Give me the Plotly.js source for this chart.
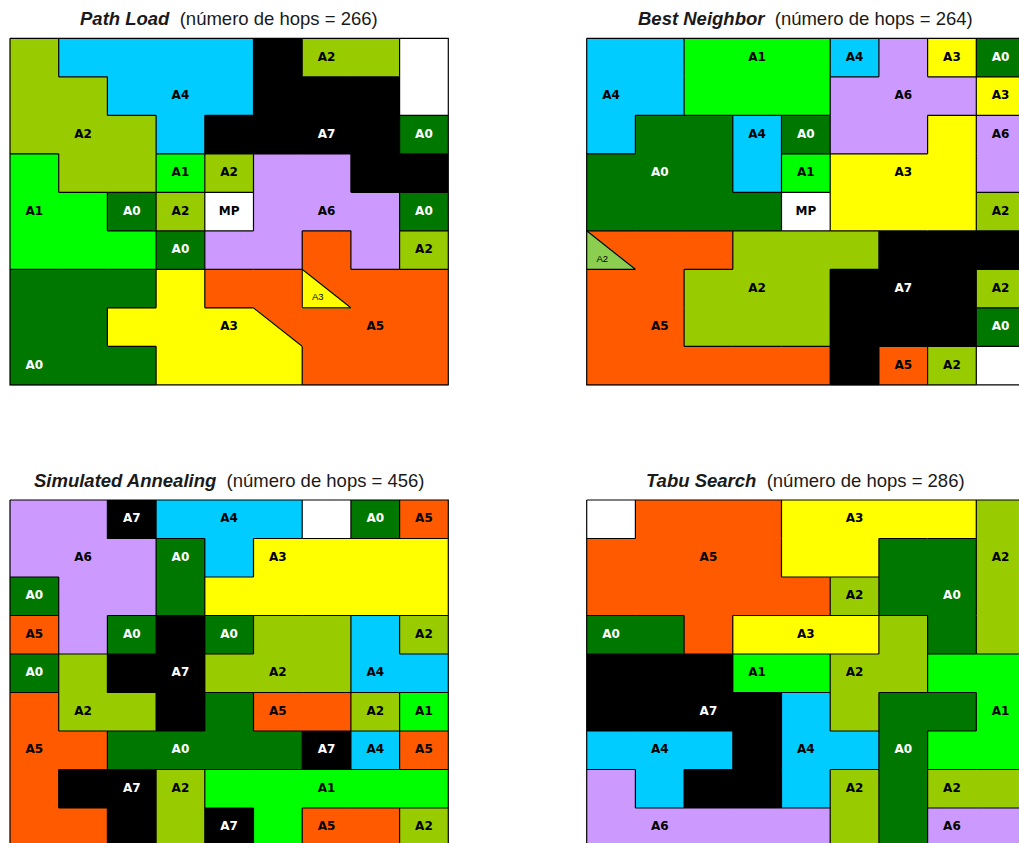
<!DOCTYPE html>
<html><head><meta charset="utf-8">
<script src="https://cdn.plot.ly/plotly-3.0.1.min.js"></script>
<style>html,body{margin:0;padding:0;background:#fff;overflow:hidden}#chart{width:1019px;height:843px}</style>
</head><body><div id="chart"></div>
<script>
// ---------- data ----------
const regionCodes  = ['A0','A1','A2','A3','A4','A5','A6','A7','MP','--','A2t'];
const regionColors = ['#007800','#00FF00','#99CC00','#FFFF00','#00CCFF','#FF5A00','#CC99FF','#000000','#FFFFFF','#FFFFFF','#8CCF50'];
const darkRegions  = ['A0','A7'];

const panelTitles = ['Path Load','Best Neighbor','Simulated Annealing','Tabu Search'];
const hopCounts   = [266, 264, 456, 286];

// grids: row 0 = top; '--' = empty cell; split cells hold their upper-right region
const pathLoadGrid = [
  ['A2','A4','A4','A4','A4','A7','A2','A2','--'],
  ['A2','A2','A4','A4','A4','A7','A7','A7','--'],
  ['A2','A2','A2','A4','A7','A7','A7','A7','A0'],
  ['A1','A2','A2','A1','A2','A6','A6','A7','A7'],
  ['A1','A1','A0','A2','MP','A6','A6','A6','A0'],
  ['A1','A1','A1','A0','A6','A6','A5','A6','A2'],
  ['A0','A0','A0','A3','A5','A5','A5','A5','A5'],
  ['A0','A0','A3','A3','A3','A5','A5','A5','A5'],
  ['A0','A0','A0','A3','A3','A3','A5','A5','A5']
];
const pathLoadSplits = [[6,6,'A3'],[7,5,'A3']];       // [row, col, lower-left region]
const pathLoadLabels = [
  [0,6,'A2'],[1,3,'A4'],[2,1,'A2'],[2,6,'A7'],[2,8,'A0'],[3,3,'A1'],[3,4,'A2'],
  [4,0,'A1'],[4,2,'A0'],[4,3,'A2'],[4,4,'MP'],[4,6,'A6'],[4,8,'A0'],[5,3,'A0'],
  [5,8,'A2'],[7,4,'A3'],[7,7,'A5'],[8,0,'A0']
];
const pathLoadSplitLabels = [[6,6,'A3']];

const bestNeighborGrid = [
  ['A4','A4','A1','A1','A1','A4','A6','A3','A0'],
  ['A4','A4','A1','A1','A1','A6','A6','A6','A3'],
  ['A4','A0','A0','A4','A0','A6','A6','A3','A6'],
  ['A0','A0','A0','A4','A1','A3','A3','A3','A6'],
  ['A0','A0','A0','A0','MP','A3','A3','A3','A2'],
  ['A5','A5','A5','A2','A2','A2','A7','A7','A7'],
  ['A5','A5','A2','A2','A2','A7','A7','A7','A2'],
  ['A5','A5','A2','A2','A2','A7','A7','A7','A0'],
  ['A5','A5','A5','A5','A5','A7','A5','A2','--']
];
const bestNeighborSplits = [[5,0,'A2t']];
const bestNeighborLabels = [
  [0,3,'A1'],[0,5,'A4'],[0,7,'A3'],[0,8,'A0'],[1,0,'A4'],[1,6,'A6'],[1,8,'A3'],
  [2,3,'A4'],[2,4,'A0'],[2,8,'A6'],[3,1,'A0'],[3,4,'A1'],[3,6,'A3'],[4,4,'MP'],
  [4,8,'A2'],[6,3,'A2'],[6,6,'A7'],[6,8,'A2'],[7,1,'A5'],[7,8,'A0'],[8,6,'A5'],[8,7,'A2']
];
const bestNeighborSplitLabels = [[5,0,'A2']];

const annealingGrid = [
  ['A6','A6','A7','A4','A4','A4','--','A0','A5'],
  ['A6','A6','A6','A0','A4','A3','A3','A3','A3'],
  ['A0','A6','A6','A0','A3','A3','A3','A3','A3'],
  ['A5','A6','A0','A7','A0','A2','A2','A4','A2'],
  ['A0','A2','A7','A7','A2','A2','A2','A4','A4'],
  ['A5','A2','A2','A7','A0','A5','A5','A2','A1'],
  ['A5','A5','A0','A0','A0','A0','A7','A4','A5'],
  ['A5','A7','A7','A2','A1','A1','A1','A1','A1'],
  ['A5','A5','A7','A2','A7','A1','A5','A5','A2']
];
const annealingSplits = [];
const annealingLabels = [
  [0,2,'A7'],[0,4,'A4'],[0,7,'A0'],[0,8,'A5'],[1,1,'A6'],[1,3,'A0'],[1,5,'A3'],
  [2,0,'A0'],[3,0,'A5'],[3,2,'A0'],[3,4,'A0'],[3,8,'A2'],[4,0,'A0'],[4,3,'A7'],
  [4,5,'A2'],[4,7,'A4'],[5,1,'A2'],[5,5,'A5'],[5,7,'A2'],[5,8,'A1'],[6,0,'A5'],
  [6,3,'A0'],[6,6,'A7'],[6,7,'A4'],[6,8,'A5'],[7,2,'A7'],[7,3,'A2'],[7,6,'A1'],
  [8,4,'A7'],[8,6,'A5'],[8,8,'A2']
];
const annealingSplitLabels = [];

const tabuGrid = [
  ['--','A5','A5','A5','A3','A3','A3','A3','A2'],
  ['A5','A5','A5','A5','A3','A3','A0','A0','A2'],
  ['A5','A5','A5','A5','A5','A2','A0','A0','A2'],
  ['A0','A0','A5','A3','A3','A3','A2','A0','A2'],
  ['A7','A7','A7','A1','A1','A2','A2','A1','A1'],
  ['A7','A7','A7','A7','A4','A2','A0','A0','A1'],
  ['A4','A4','A4','A7','A4','A4','A0','A1','A1'],
  ['A6','A4','A7','A7','A4','A2','A0','A2','A2'],
  ['A6','A6','A6','A6','A6','A2','A0','A6','A6']
];
const tabuSplits = [];
const tabuLabels = [
  [0,5,'A3'],[1,2,'A5'],[1,8,'A2'],[2,5,'A2'],[2,7,'A0'],[3,0,'A0'],[3,4,'A3'],
  [4,3,'A1'],[4,5,'A2'],[5,2,'A7'],[5,8,'A1'],[6,1,'A4'],[6,4,'A4'],[6,6,'A0'],
  [7,5,'A2'],[7,7,'A2'],[8,1,'A6'],[8,7,'A6']
];
const tabuSplitLabels = [];

// ---------- layout / rendering ----------
const W = 1019, H = 843, cellW = 48.7, cellH = 38.5, pad = 0.06;
const panelOrigins = [[10, 38.3], [586.7, 38.3], [10, 500], [586.7, 500]];
const panels = [
  {grid: pathLoadGrid, splits: pathLoadSplits, labels: pathLoadLabels, splitLabels: pathLoadSplitLabels},
  {grid: bestNeighborGrid, splits: bestNeighborSplits, labels: bestNeighborLabels, splitLabels: bestNeighborSplitLabels},
  {grid: annealingGrid, splits: annealingSplits, labels: annealingLabels, splitLabels: annealingSplitLabels},
  {grid: tabuGrid, splits: tabuSplits, labels: tabuLabels, splitLabels: tabuSplitLabels}
];

const nCodes = regionCodes.length;
const colorscale = [];
regionColors.forEach((col, i) => { colorscale.push([i / nCodes, col]); colorscale.push([(i + 1) / nCodes, col]); });
const codeOf = r => regionCodes.indexOf(r);
const colorOf = r => regionColors[codeOf(r)];

const traces = [];
const layout = {
  width: W, height: H, margin: {l: 0, r: 0, t: 0, b: 0},
  paper_bgcolor: '#ffffff', plot_bgcolor: '#ffffff', showlegend: false,
  annotations: []
};
const clamp = v => Math.max(0, Math.min(1, v));

panels.forEach((p, i) => {
  const n = i + 1;
  const xa = 'x' + (n === 1 ? '' : n), ya = 'y' + (n === 1 ? '' : n);
  const [x0, y0] = panelOrigins[i];
  const rows = p.grid.length, cols = p.grid[0].length;
  const xMax = Math.min(cols + pad, (W - x0) / cellW);
  const yMax = Math.min(rows + pad, (H - y0) / cellH);
  layout['xaxis' + (n === 1 ? '' : n)] = {
    domain: [clamp((x0 - pad * cellW) / W), clamp((x0 + xMax * cellW) / W)],
    range: [-pad, xMax], visible: false, fixedrange: true, anchor: ya
  };
  layout['yaxis' + (n === 1 ? '' : n)] = {
    domain: [clamp(1 - (y0 + yMax * cellH) / H), clamp(1 - (y0 - pad * cellH) / H)],
    range: [yMax, -pad], visible: false, fixedrange: true, anchor: xa
  };

  // cells
  traces.push({
    type: 'heatmap', xaxis: xa, yaxis: ya,
    x: [...Array(cols).keys()].map(c => c + 0.5),
    y: [...Array(rows).keys()].map(r => r + 0.5),
    z: p.grid.map(row => row.map(codeOf)),
    zmin: -0.5, zmax: nCodes - 0.5, colorscale: colorscale,
    showscale: false, hoverinfo: 'skip', zsmooth: false
  });

  // split (triangular) cells
  p.splits.forEach(([r, c, lower]) => {
    traces.push({
      type: 'scatter', mode: 'lines', xaxis: xa, yaxis: ya,
      x: [c, c, c + 1, c], y: [r, r + 1, r + 1, r],
      fill: 'toself', fillcolor: colorOf(lower), line: {width: 1.2, color: colorOf(lower)},
      hoverinfo: 'skip'
    });
  });

  // borders between different regions
  const side = (r, c, s) => {
    const sp = p.splits.find(q => q[0] === r && q[1] === c);
    if (!sp) return p.grid[r][c];
    return (s === 'left' || s === 'bottom') ? sp[2] : p.grid[r][c];
  };
  const bx = [], by = [];
  const seg = (xa0, ya0, xa1, ya1) => { bx.push(xa0, xa1, null); by.push(ya0, ya1, null); };
  for (let r = 0; r < rows; r++)
    for (let c = 1; c < cols; c++)
      if (side(r, c - 1, 'right') !== side(r, c, 'left')) seg(c, r, c, r + 1);
  for (let r = 1; r < rows; r++)
    for (let c = 0; c < cols; c++)
      if (side(r - 1, c, 'bottom') !== side(r, c, 'top')) seg(c, r, c + 1, r);
  p.splits.forEach(([r, c]) => seg(c, r, c + 1, r + 1));
  bx.push(0, cols, cols, 0, 0, null); by.push(0, 0, rows, rows, 0, null);
  traces.push({
    type: 'scatter', mode: 'lines', xaxis: xa, yaxis: ya, x: bx, y: by,
    line: {color: '#000000', width: 1.2}, hoverinfo: 'skip', connectgaps: false
  });

  // labels
  traces.push({
    type: 'scatter', mode: 'text', xaxis: xa, yaxis: ya,
    x: p.labels.map(l => l[1] + 0.5), y: p.labels.map(l => l[0] + 0.5),
    text: p.labels.map(l => l[2]),
    textposition: 'middle center', cliponaxis: false,
    textfont: {family: 'DejaVu Sans, Verdana, sans-serif', size: 12, weight: 'bold',
      color: p.labels.map(l => darkRegions.includes(p.grid[l[0]][l[1]]) ? '#ffffff' : '#000000')},
    hoverinfo: 'skip'
  });
  if (p.splitLabels.length) {
    traces.push({
      type: 'scatter', mode: 'text', xaxis: xa, yaxis: ya,
      x: p.splitLabels.map(l => l[1] + 0.32), y: p.splitLabels.map(l => l[0] + 0.74),
      text: p.splitLabels.map(l => l[2]), textposition: 'middle center',
      textfont: {family: 'Liberation Sans, Arial, sans-serif', size: 9.5, color: '#000000'},
      hoverinfo: 'skip'
    });
  }

  // title
  layout.annotations.push({
    xref: 'paper', yref: 'paper', showarrow: false,
    x: (x0 + 4.5 * cellW) / W, y: 1 - (y0 - 19.5) / H,
    xanchor: 'center', yanchor: 'middle',
    text: '<b><i>' + panelTitles[i] + '</i></b>\u00a0\u00a0(número de hops = ' + hopCounts[i] + ')',
    font: {family: 'Liberation Sans, Arial, sans-serif', size: 18.5, color: '#1a1a1a'}
  });
});

Plotly.newPlot('chart', traces, layout, {staticPlot: true, displayModeBar: false});
</script></body></html>
